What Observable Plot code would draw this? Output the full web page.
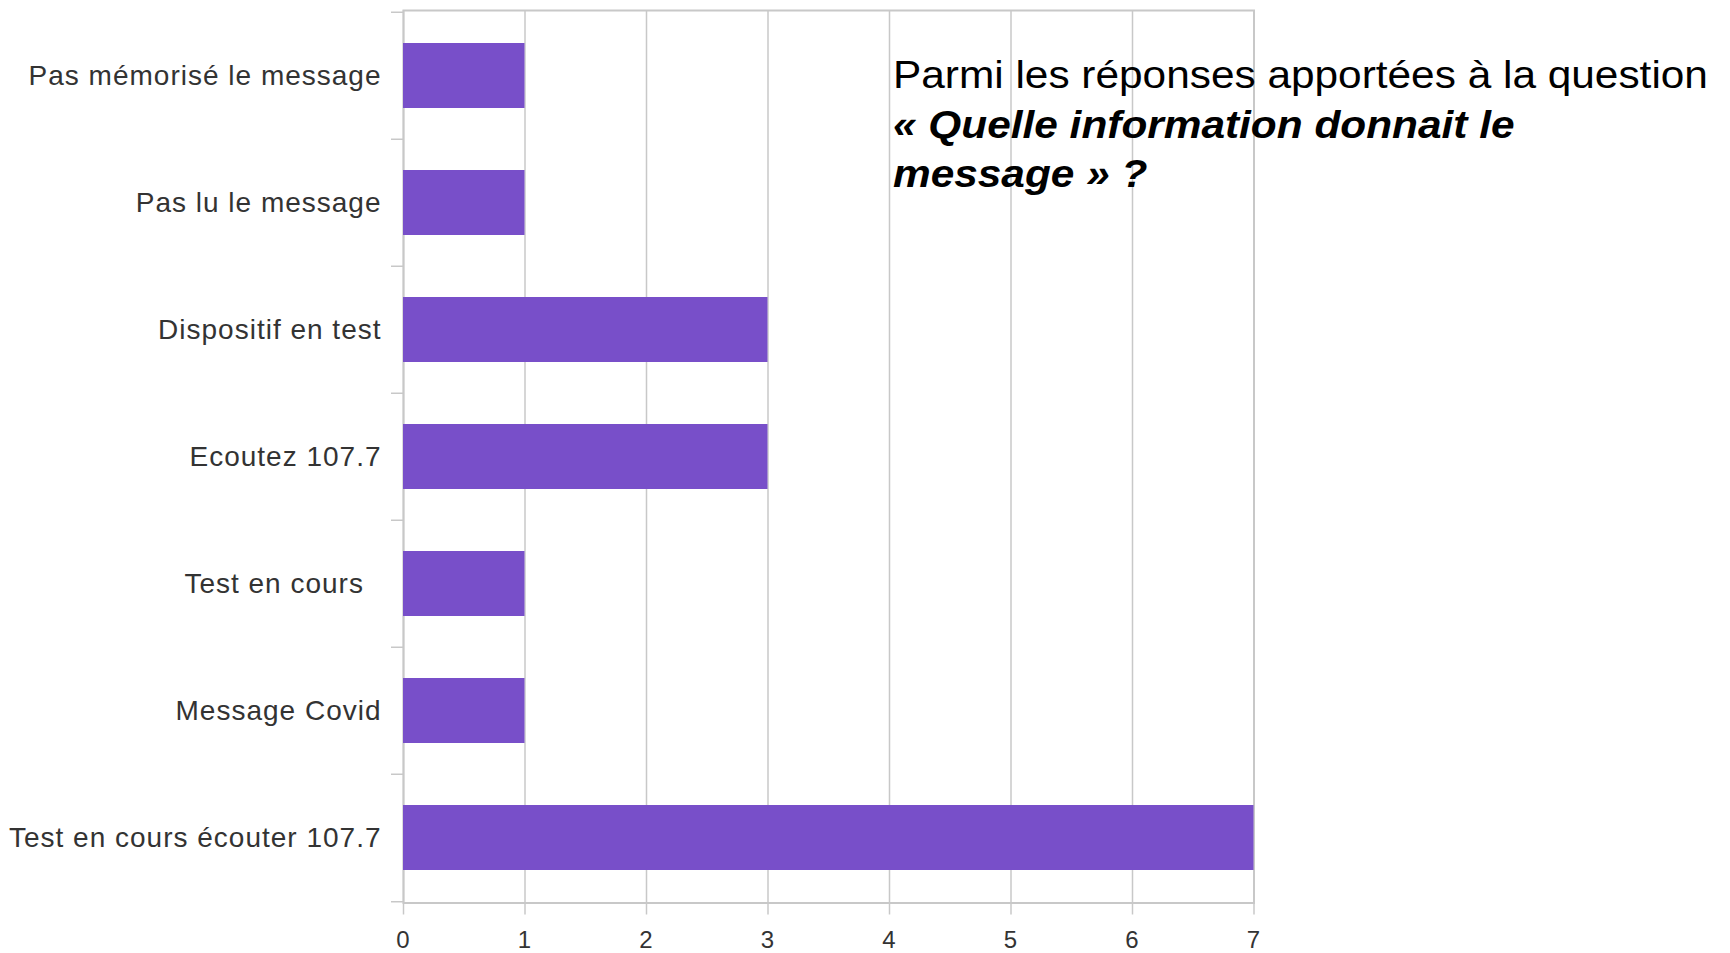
<!DOCTYPE html>
<html>
<head>
<meta charset="utf-8">
<script src="https://cdn.jsdelivr.net/npm/d3@7"></script>
<script src="https://cdn.jsdelivr.net/npm/@observablehq/plot@0.6"></script>
<style>
  html, body { margin: 0; padding: 0; background: #fff; }
  #wrap { position: relative; width: 1730px; height: 953px; overflow: hidden; }
  #note {
    position: absolute; left: 893px; top: 51px;
    font-family: "Liberation Sans", Arial, sans-serif;
    font-size: 38px; line-height: 49.5px; color: #000;
    transform: scaleX(1.115); transform-origin: left top;
    white-space: nowrap;
  }
  #note .q { font-weight: bold; font-style: italic; }
</style>
</head>
<body>
<div id="wrap">
  <div id="chart"></div>
  <div id="note">Parmi les réponses apportées à la question<br><span class="q">« Quelle information donnait le<br>message » ?</span></div>
</div>
<script>
const categories = [
  "Pas mémorisé le message",
  "Pas lu le message",
  "Dispositif en test",
  "Ecoutez 107.7",
  "Test en cours\u00a0\u00a0",
  "Message Covid",
  "Test en cours écouter 107.7"
];
const counts = [1, 1, 3, 3, 1, 1, 7];
const xTicks = [0, 1, 2, 3, 4, 5, 6, 7];

const data = categories.map((c, i) => ({category: c, count: counts[i]}));

const H = 953, mTop = 10, mBottom = 50.5;
const step = (H - mTop - mBottom) / categories.length;
const gridColor = "#c8c8c8";

const chart = Plot.plot({
  width: 1730,
  height: H,
  marginLeft: 403,
  marginRight: 476.5,
  marginTop: mTop,
  marginBottom: mBottom,
  style: {fontFamily: "'Liberation Sans', Arial, sans-serif", background: "#fff", color: "#333", letterSpacing: "1px"},
  x: {domain: [0, 7]},
  y: {domain: categories, paddingInner: 0.49, paddingOuter: 0.245},
  marks: [
    Plot.gridX(xTicks, {stroke: gridColor, strokeOpacity: 1, strokeWidth: 1.5}),
    Plot.frame({stroke: gridColor, strokeWidth: 2}),
    Plot.barX(data, {x: "count", y: "category", fill: "#784fc9"}),
    Plot.axisY(categories, {tickSize: 12, dy: -step / 2, fill: "none", label: null, stroke: gridColor, strokeWidth: 1.5}),
    Plot.axisY(categories.slice(-1), {tickSize: 12, dy: step / 2, fill: "none", label: null, stroke: gridColor, strokeWidth: 1.5}),
    Plot.axisY({tickSize: 0, tickPadding: 22, fontSize: 28, label: null, fill: "#333"}),
    Plot.axisX(xTicks, {tickSize: 12, tickPadding: 16, fontSize: 24, tickFormat: "d", label: null, stroke: gridColor, strokeWidth: 1.5, fill: "#333"})
  ]
});
document.getElementById("chart").appendChild(chart);
</script>
</body>
</html>
